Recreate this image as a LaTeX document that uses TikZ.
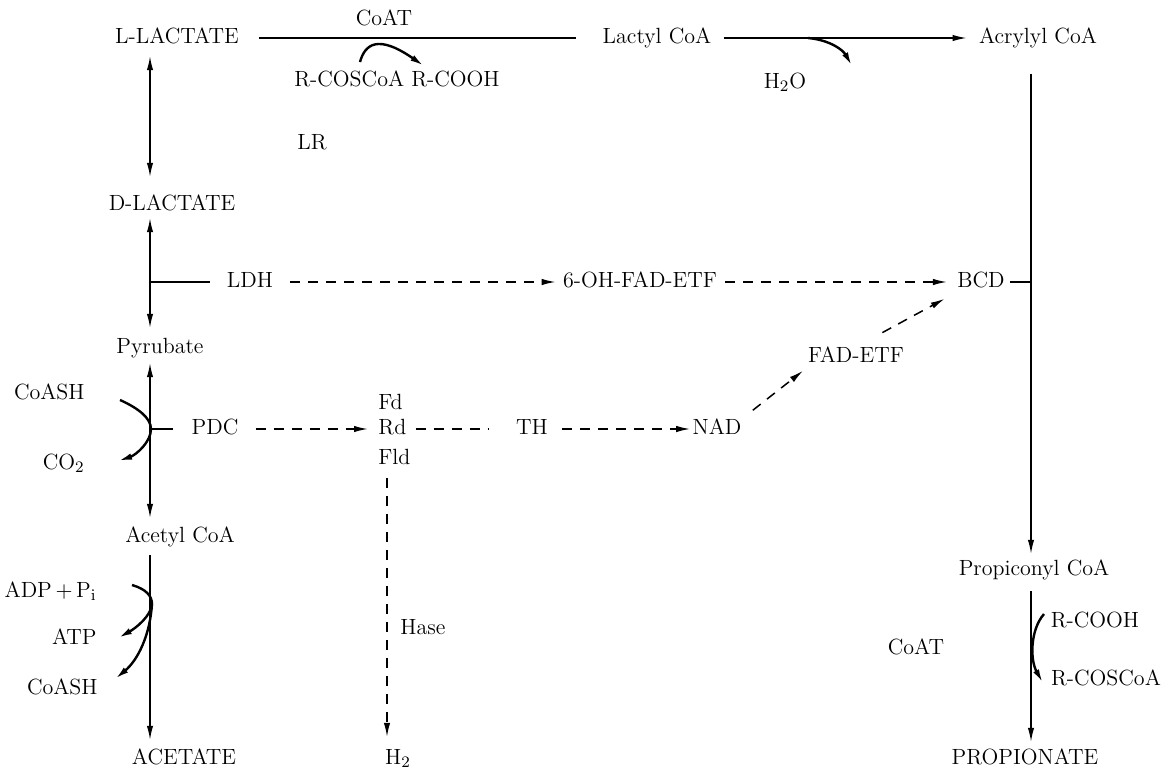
\documentclass[tikz,border=0pt]{standalone}
\usetikzlibrary{arrows.meta}
\begin{document}
\begin{tikzpicture}[x=0.5pt, y=-0.5pt,
    >={Latex[length=7pt,width=3.2pt]},
    every node/.style={inner sep=0pt, text height=7.6pt, text depth=2.1pt, font=\fontsize{11}{13}\selectfont},
    flow/.style={line width=0.75pt},
    dflow/.style={line width=0.75pt, dash pattern=on 5pt off 4pt},
    side/.style={line width=1.2pt}]
  \useasboundingbox (0,0) rectangle (1173,772);
  % Colonnes
  \def\xl{150} \def\xh{387} \def\xr{1031}
  \coordinate (colL) at (\xl,0);
  \coordinate (colH) at (\xh,0);
  \coordinate (colR) at (\xr,0);
  % Ligne du haut
  \node (llac) at (177,38) {L-LACTATE};
  \node (coat1) at (384,20) {CoAT};
  \node (rcos1) at (397,81) {R-COSCoA R-COOH};
  \node (lacoa) at (657,38) {Lactyl CoA};
  \node (h2o) at (785,83) {H$_2$O};
  \node (acoa) at (1038,38) {Acrylyl CoA};
  % Colonne de gauche
  \node (lr) at (312,144) {LR};
  \node (dlac) at (172,205) {D-LACTATE};
  \node (ldh) at (250,282) {LDH};
  \node (pyr) at (160,348) {Pyrubate};
  \node[anchor=east] (coash1) at (85,394) {CoASH};
  \node (pdc) at (215,429) {PDC};
  \node[anchor=east] (co2) at (85,464) {CO$_2$};
  \node (acet) at (180,537) {Acetyl CoA};
  \node[anchor=east] (adp) at (97,592) {ADP\,$+$\,P$_{\mathrm{i}}$};
  \node[anchor=east] (atp) at (97,639) {ATP};
  \node[anchor=east] (coash2) at (98,689) {CoASH};
  \node (acetate) at (184,759) {ACETATE};
  % Milieu
  \node (ohfad) at (640,282) {6-OH-FAD-ETF};
  \node (bcd) at (981,282) {BCD};
  \node (fadetf) at (856,357) {FAD-ETF};
  \node[anchor=west] (fd) at (378,404) {Fd};
  \node[anchor=west] (rd) at (378,429) {Rd};
  \node[anchor=west] (fld) at (378,459) {Fld};
  \node (th) at (532,429) {TH};
  \node (nad) at (717,429) {NAD};
  \node[anchor=west] (hase) at (400,629) {Hase};
  \node (h2) at (398,759) {H$_2$};
  % Colonne de droite
  \node (propcoa) at (1034,570) {Propiconyl CoA};
  \node (rcooh) at (1095,622) {R-COOH};
  \node (coat2) at (916,649) {CoAT};
  \node (rcos2) at (1106,680) {R-COSCoA};
  \node (propn) at (1025,759) {PROPIONATE};
  % Points des fl\`eches courbes
  \coordinate (ca1) at (360,62);  \coordinate (ca2) at (424,66);
  \coordinate (hw1) at (808,38);  \coordinate (hw2) at (852,66);
  \coordinate (cs1) at (120,400); \coordinate (jp1) at (151,429); \coordinate (cs2) at (118,461);
  \coordinate (ad1) at (132,585); \coordinate (jp2) at (152,604);
  \coordinate (at1) at (118,638); \coordinate (ch1) at (115,679);
  \coordinate (rc1) at (1044,614); \coordinate (rc2) at (1043,683);
  % Ligne du haut
  \draw[flow, shorten <=10pt, shorten >=13pt] (llac) -- (lacoa);
  \draw[side,->] (ca1) .. controls (365,44) and (378,34) .. (ca2);
  \draw[flow,->, shorten <=6pt, shorten >=6pt] (lacoa) -- (acoa);
  \draw[side,->] (hw1) .. controls (830,40) and (843,50) .. (hw2);
  % Colonne de gauche
  \draw[flow,<->, shorten <=4pt, shorten >=9pt] (llac.south -| colL) -- (dlac.north -| colL);
  \draw[flow,<->, shorten <=1.5pt, shorten >=5pt] (dlac.south -| colL) -- (pyr.north -| colL);
  \draw[flow, shorten >=8.5pt] (ldh.west -| colL) -- (ldh.west);
  \draw[flow,<->, shorten <=2.5pt, shorten >=4.5pt] (pyr.south -| colL) -- (acet.north -| colL);
  \draw[flow, shorten >=9pt] (pdc.west -| colL) -- (pdc.west);
  \draw[side,->] (cs1) .. controls (138,408) and (151,418) .. (jp1)
    .. controls (151,442) and (136,455) .. (cs2);
  \draw[flow,->, shorten <=4pt, shorten >=4.5pt] (acet.south -| colL) -- (acetate.north -| colL);
  \draw[side] (ad1) .. controls (146,589) and (152,596) .. (jp2);
  \draw[side,->] (jp2) .. controls (151,616) and (136,628) .. (at1);
  \draw[side,->] (jp2) .. controls (150,635) and (138,660) .. (ch1);
  % Transferts d'\'electrons
  \draw[dflow,->, shorten <=8.5pt, shorten >=3.5pt] (ldh) -- (ohfad);
  \draw[dflow,->, shorten <=4pt, shorten >=5pt] (ohfad) -- (bcd);
  \draw[dflow,->, shorten <=8.5pt, shorten >=5pt] (pdc) -- (rd);
  \draw[dflow, shorten <=4.5pt, shorten >=14pt] (rd) -- (th);
  \draw[dflow,->, shorten <=7pt, shorten >=1pt] (th) -- (nad);
  \draw[dflow,->, shorten <=7pt, shorten >=3pt] (nad.north east) -- (fadetf.south west);
  \draw[dflow,->, shorten <=15pt, shorten >=7pt] (fadetf.north) -- (bcd.south west);
  \draw[dflow,->, shorten <=4.5pt, shorten >=6pt] (fld.south -| colH) -- (h2.north -| colH);
  % Colonne de droite
  \draw[flow,->, shorten <=13pt, shorten >=3pt] (acoa.south -| colR) -- (propcoa.north -| colR);
  \draw[flow, shorten <=2.5pt] (bcd.east) -- (bcd.east -| colR);
  \draw[flow,->, shorten <=5.5pt, shorten >=3.5pt] (propcoa.south -| colR) -- (propn.north -| colR);
  \draw[side,->] (rc1) .. controls (1030,630) and (1030,660) .. (rc2);
\end{tikzpicture}
\end{document}
